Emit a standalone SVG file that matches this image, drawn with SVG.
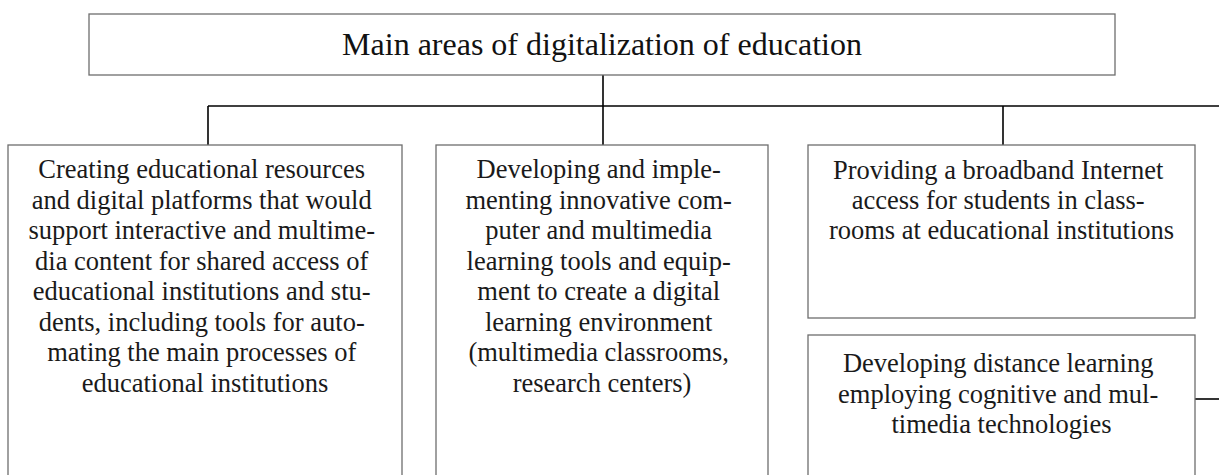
<svg xmlns="http://www.w3.org/2000/svg" width="1219" height="475" viewBox="0 0 1219 475">
<style>
.box{fill:#fff;stroke:#6e6e6e;stroke-width:1.3}
.conn{stroke:#000;stroke-width:1.6;fill:none}
.t{font-family:"Liberation Serif","Times New Roman",serif;font-size:26.5px;fill:#1a1a1a;text-anchor:middle}
.title{font-family:"Liberation Serif","Times New Roman",serif;font-size:32px;fill:#111;text-anchor:middle}
</style>
<rect width="1219" height="475" fill="#fff"/>
<g id="connectors">
<line class="conn" x1="603" y1="75" x2="603" y2="145"/>
<line class="conn" x1="208" y1="106" x2="1219" y2="106"/>
<line class="conn" x1="208" y1="106" x2="208" y2="145"/>
<line class="conn" x1="1003" y1="106" x2="1003" y2="145"/>
<line class="conn" x1="1195" y1="399" x2="1219" y2="399"/>
</g>
<g id="main">
<rect class="box" x="89" y="14" width="1026" height="61"/>
<text class="title" x="602" y="55">Main areas of digitalization of education</text>
</g>
<g id="n1">
<rect class="box" x="8" y="145" width="394" height="340"/>
<text class="t" x="205">
<tspan x="205" y="178">Creating educational resources</tspan>
<tspan x="205" y="208.5">and digital platforms that would</tspan>
<tspan x="205" y="239">support interactive and multime-</tspan>
<tspan x="205" y="269.5">dia content for shared access of</tspan>
<tspan x="205" y="300">educational institutions and stu-</tspan>
<tspan x="205" y="330.5">dents, including tools for auto-</tspan>
<tspan x="205" y="361">mating the main processes of</tspan>
<tspan x="205" y="391.5">educational institutions</tspan>
</text>
</g>
<g id="n2">
<rect class="box" x="436" y="145" width="332" height="340"/>
<text class="t" x="602">
<tspan x="602" y="178">Developing and imple-</tspan>
<tspan x="602" y="208.5">menting innovative com-</tspan>
<tspan x="602" y="239">puter and multimedia</tspan>
<tspan x="602" y="269.5">learning tools and equip-</tspan>
<tspan x="602" y="300">ment to create a digital</tspan>
<tspan x="602" y="330.5">learning environment</tspan>
<tspan x="602" y="361">(multimedia classrooms,</tspan>
<tspan x="602" y="391.5">research centers)</tspan>
</text>
</g>
<g id="n3">
<rect class="box" x="808" y="145" width="387" height="173"/>
<text class="t" x="1001.5">
<tspan x="1001.5" y="179">Providing a broadband Internet</tspan>
<tspan x="1001.5" y="209">access for students in class-</tspan>
<tspan x="1001.5" y="239">rooms at educational institutions</tspan>
</text>
</g>
<g id="n4">
<rect class="box" x="808" y="335" width="387" height="150"/>
<text class="t" x="1001.5">
<tspan x="1001.5" y="372">Developing distance learning</tspan>
<tspan x="1001.5" y="402.5">employing cognitive and mul-</tspan>
<tspan x="1001.5" y="433">timedia technologies</tspan>
</text>
</g>
</svg>
